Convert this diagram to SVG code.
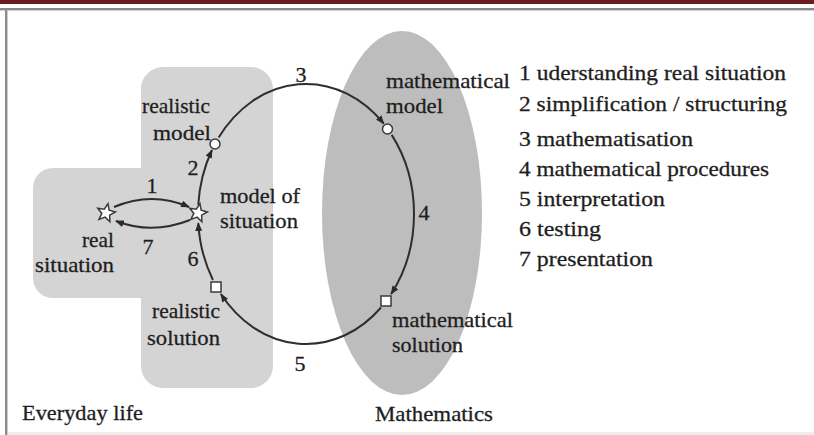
<svg xmlns="http://www.w3.org/2000/svg" width="814" height="435" viewBox="0 0 814 435">
  <style>
    text { font-family: "Liberation Serif", "Times New Roman", serif; font-size: 22px; fill: #1e1e1e; stroke: #1e1e1e; stroke-width: 0.3; }
    .num { text-anchor: middle; }
    .end { text-anchor: end; }
    .conn { fill: none; stroke: #2e2e2e; stroke-width: 2; }
    .node { fill: #ffffff; stroke: #3a3a3a; stroke-width: 1.5; }
  </style>
  <defs>
    <marker id="ah" viewBox="0 0 10 8" refX="9" refY="4" markerWidth="9" markerHeight="7" markerUnits="userSpaceOnUse" orient="auto">
      <path d="M0,0 L10,4 L0,8 z" fill="#2a2a2a"/>
    </marker>
    <polygon id="star" points="0,-9.5 2.5,-3.4 9,-2.9 4,1.3 5.6,7.7 0,4.2 -5.6,7.7 -4,1.3 -9,-2.9 -2.5,-3.4"/>
  </defs>

  <!-- page frame -->
  <rect x="0" y="0" width="814" height="435" fill="#ffffff"/>
  <rect x="0" y="0" width="814" height="4" fill="#6b1c1c"/>
  <rect x="0" y="8" width="814" height="2" fill="#8a8a8a"/>
  <rect x="0" y="10" width="814" height="1" fill="#cfcfcf"/>
  <rect x="5" y="8" width="2" height="427" fill="#8a8a8a"/>
  <rect x="7" y="10" width="1" height="425" fill="#cfcfcf"/>
  <rect x="8" y="432" width="806" height="3" fill="#eeeeee"/>

  <!-- regions -->
  <g id="region-everyday-life">
    <path d="M163,67 H251 A22,22 0 0 1 273,89 V366 A22,22 0 0 1 251,388 H163 A22,22 0 0 1 141,366 V298 H53 A20,20 0 0 1 33,278 V188 A20,20 0 0 1 53,168 H141 V89 A22,22 0 0 1 163,67 Z" fill="#d4d4d4"/>
    <text x="22" y="420" textLength="121" lengthAdjust="spacingAndGlyphs">Everyday life</text>
  </g>
  <g id="region-mathematics">
    <ellipse cx="402" cy="213" rx="80" ry="182" fill="#bdbdbd"/>
    <text x="375" y="421" textLength="118" lengthAdjust="spacingAndGlyphs">Mathematics</text>
  </g>

  <!-- connectors -->
  <g id="connectors">
    <path class="conn" d="M114,207 Q152,191 189,207" marker-end="url(#ah)"/>
    <path class="conn" d="M190,220 Q152,235 116,221" marker-end="url(#ah)"/>
    <path class="conn" d="M198.26,204.93 A108,130 0 0 1 212.0,149.99" marker-end="url(#ah)"/>
    <path class="conn" d="M218.63,137.59 A108,130 0 0 1 383.69,123.69" marker-end="url(#ah)"/>
    <path class="conn" d="M391.68,134.86 A108,130 0 0 1 391.11,294.04" marker-end="url(#ah)"/>
    <path class="conn" d="M381.02,307.51 A108,130 0 0 1 220.89,294.04" marker-end="url(#ah)"/>
    <path class="conn" d="M212.94,279.98 A108,130 0 0 1 198.26,223.07" marker-end="url(#ah)"/>
    <text class="num" x="152" y="193">1</text>
    <text class="num" x="148" y="254">7</text>
    <text class="num" x="193" y="175">2</text>
    <text class="num" x="301" y="82">3</text>
    <text class="num" x="424" y="220">4</text>
    <text class="num" x="300" y="371">5</text>
    <text class="num" x="193" y="266">6</text>
  </g>

  <!-- nodes -->
  <g id="node-real-situation">
    <use href="#star" class="node" transform="translate(106,213) rotate(12)"/>
    <text class="end" x="114" y="247" textLength="32" lengthAdjust="spacingAndGlyphs">real</text>
    <text class="end" x="114" y="272" textLength="79" lengthAdjust="spacingAndGlyphs">situation</text>
  </g>
  <g id="node-model-of-situation">
    <use href="#star" class="node" transform="translate(198,213) rotate(12)"/>
    <text x="220" y="203" textLength="80" lengthAdjust="spacingAndGlyphs">model of</text>
    <text x="220" y="228" textLength="78" lengthAdjust="spacingAndGlyphs">situation</text>
  </g>
  <g id="node-realistic-model">
    <circle class="node" cx="215" cy="144" r="5"/>
    <text class="end" x="210" y="113" textLength="68" lengthAdjust="spacingAndGlyphs">realistic</text>
    <text class="end" x="211" y="140" textLength="58" lengthAdjust="spacingAndGlyphs">model</text>
  </g>
  <g id="node-mathematical-model">
    <circle class="node" cx="387.5" cy="129" r="5"/>
    <text x="386" y="88" textLength="124" lengthAdjust="spacingAndGlyphs">mathematical</text>
    <text x="386" y="113" textLength="57" lengthAdjust="spacingAndGlyphs">model</text>
  </g>
  <g id="node-mathematical-solution">
    <rect class="node" x="381" y="296" width="10" height="10"/>
    <text x="392" y="327" textLength="121" lengthAdjust="spacingAndGlyphs">mathematical</text>
    <text x="392" y="352" textLength="71" lengthAdjust="spacingAndGlyphs">solution</text>
  </g>
  <g id="node-realistic-solution">
    <rect class="node" x="211" y="282" width="10" height="10"/>
    <text class="end" x="220" y="318" textLength="68" lengthAdjust="spacingAndGlyphs">realistic</text>
    <text class="end" x="220" y="345" textLength="73" lengthAdjust="spacingAndGlyphs">solution</text>
  </g>

  <!-- legend -->
  <g id="legend">
    <text x="519" y="80" textLength="267" lengthAdjust="spacingAndGlyphs">1 uderstanding real situation</text>
    <text x="519" y="111" textLength="268" lengthAdjust="spacingAndGlyphs">2 simplification / structuring</text>
    <text x="519" y="146" textLength="174" lengthAdjust="spacingAndGlyphs">3 mathematisation</text>
    <text x="519" y="176" textLength="250" lengthAdjust="spacingAndGlyphs">4 mathematical procedures</text>
    <text x="519" y="206" textLength="146" lengthAdjust="spacingAndGlyphs">5 interpretation</text>
    <text x="519" y="236" textLength="82" lengthAdjust="spacingAndGlyphs">6 testing</text>
    <text x="519" y="266" textLength="134" lengthAdjust="spacingAndGlyphs">7 presentation</text>
  </g>
</svg>
